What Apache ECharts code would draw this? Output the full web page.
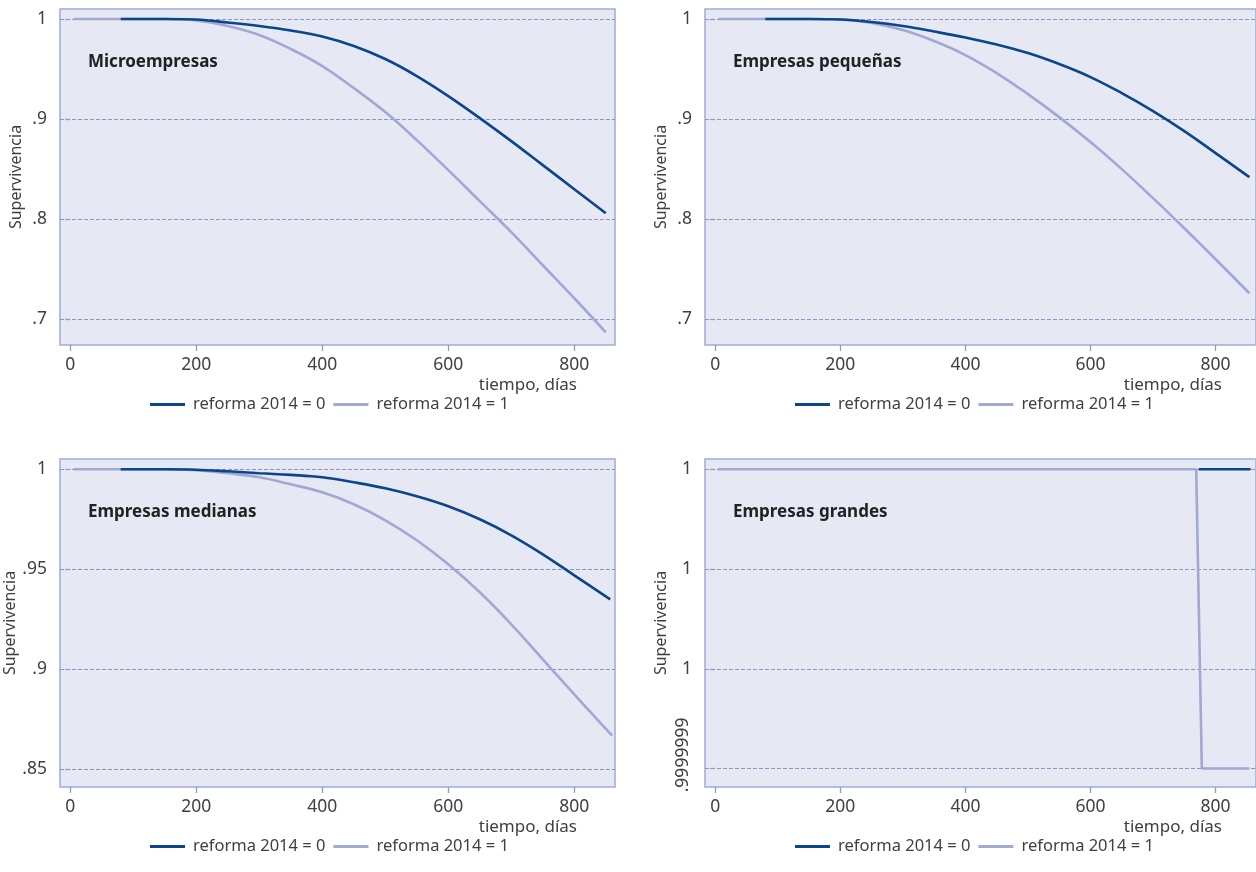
<!DOCTYPE html>
<html>
<head>
<meta charset="utf-8">
<script src="https://cdn.jsdelivr.net/npm/echarts@6/dist/echarts.min.js"></script>
<style>
  html, body { margin: 0; padding: 0; background: #ffffff; }
  #chart { width: 1256px; height: 872px; }
</style>
</head>
<body>
<div id="chart"></div>
<script>
// ---------- data ----------
const seriesNames = ['reforma 2014 = 0', 'reforma 2014 = 1'];
const panelTitles = ['Microempresas', 'Empresas pequeñas', 'Empresas medianas', 'Empresas grandes'];
const xTicks = [0, 200, 400, 600, 800];
const xTitle = 'tiempo, días';
const yTitle = 'Supervivencia';

const yTicksMicro = [0.7, 0.8, 0.9, 1];
const yTicksPequenas = [0.7, 0.8, 0.9, 1];
const yTicksMedianas = [0.85, 0.9, 0.95, 1];
const yTicksGrandes = [0.9999999, 0.9999999333, 0.9999999667, 1];

// Microempresas
const microDias0 = [80,100,150,200,250,300,350,400,450,500,550,600,650,700,750,800,850];
const microSuperv0 = [1,1,1,0.9995,0.9965,0.993,0.9885,0.9825,0.973,0.960,0.943,0.923,0.901,0.878,0.854,0.830,0.806];
const microDias1 = [5,50,100,150,200,250,300,350,400,450,500,550,600,650,700,750,800,850];
const microSuperv1 = [1,1,1,1,0.9985,0.993,0.984,0.970,0.953,0.931,0.907,0.879,0.849,0.818,0.787,0.754,0.721,0.687];

// Empresas pequeñas
const pequenasDias0 = [80,100,150,200,250,300,350,400,450,500,550,600,650,700,750,800,854];
const pequenasSuperv0 = [1,1,1,0.9995,0.997,0.993,0.9875,0.9815,0.9745,0.966,0.955,0.942,0.926,0.908,0.888,0.866,0.842];
const pequenasDias1 = [5,50,100,150,200,250,300,350,400,450,500,550,600,650,700,750,800,854];
const pequenasSuperv1 = [1,1,1,1,0.9995,0.996,0.989,0.978,0.964,0.946,0.925,0.902,0.877,0.850,0.821,0.791,0.760,0.726];

// Empresas medianas
const medianasDias0 = [80,100,150,200,250,300,350,400,450,500,550,600,650,700,750,800,857];
const medianasSuperv0 = [1,1,1,0.9998,0.999,0.998,0.9972,0.996,0.9935,0.9905,0.9865,0.9815,0.975,0.967,0.9575,0.947,0.935];
const medianasDias1 = [5,50,100,150,200,250,300,350,400,450,500,550,600,650,700,750,800,860];
const medianasSuperv1 = [1,1,1,1,0.9995,0.998,0.996,0.9925,0.9885,0.9825,0.9745,0.9645,0.9525,0.9385,0.9225,0.905,0.8875,0.8668];

// Empresas grandes
const grandesDias0 = [773, 856];
const grandesSuperv0 = [1, 1];
const grandesDias1 = [4, 769, 778, 854];
const grandesSuperv1 = [1, 1, 0.9999999, 0.9999999];

// ---------- styling / layout ----------
const FONT = '"Noto Sans", "Open Sans", sans-serif';
const DARK = '#0a4689';
const LIGHT = '#a2a8d4';
const BG = '#e6e8f4';
const BORDER = '#a3aad3';
const TICK = '#8f99ca';
const GRIDLINE = '#8d94c5';
const TEXT = '#404040';

const panels = [
  { title: panelTitles[0], d0: microDias0, s0: microSuperv0, d1: microDias1, s1: microSuperv1,
    yTicks: yTicksMicro, yMin: 0.6743, yMax: 1.0100, smooth: true,
    grid: { left: 60, top: 9, width: 555, height: 336 } },
  { title: panelTitles[1], d0: pequenasDias0, s0: pequenasSuperv0, d1: pequenasDias1, s1: pequenasSuperv1,
    yTicks: yTicksPequenas, yMin: 0.6743, yMax: 1.0100, smooth: true,
    grid: { left: 705, top: 9, width: 555, height: 336 } },
  { title: panelTitles[2], d0: medianasDias0, s0: medianasSuperv0, d1: medianasDias1, s1: medianasSuperv1,
    yTicks: yTicksMedianas, yMin: 0.84115, yMax: 1.00515, smooth: true,
    grid: { left: 60, top: 459, width: 555, height: 328 } },
  { title: panelTitles[3], d0: grandesDias0, s0: grandesSuperv0, d1: grandesDias1, s1: grandesSuperv1,
    yTicks: yTicksGrandes, yMin: 0.9999998938, yMax: 1.0000000034, smooth: false,
    grid: { left: 705, top: 459, width: 555, height: 328 } }
];

function fmt6(v) {
  let s = String(parseFloat(Number(v).toPrecision(6)));
  if (s.indexOf('0.') === 0) s = s.slice(1);
  return s;
}
function fmt7(v) {
  let s = String(parseFloat(Number(v).toPrecision(7)));
  if (s.indexOf('0.') === 0) s = s.slice(1);
  return s;
}
function pairs(d, s) { return d.map((x, i) => [x, s[i]]); }

const grids = [], xAxes = [], yAxes = [], series = [], legends = [], graphics = [];

panels.forEach((p, i) => {
  grids.push(Object.assign({ show: true, backgroundColor: BG, borderColor: BORDER, borderWidth: 1.5 }, p.grid));
  xAxes.push({
    type: 'value', gridIndex: i, min: -16.3, max: 864.6,
    axisLine: { show: false },
    axisTick: { show: true, length: 6, customValues: xTicks, lineStyle: { color: TICK, width: 1.3 } },
    axisLabel: { customValues: xTicks, margin: 11, fontSize: 17.5, color: TEXT, fontFamily: FONT },
    splitLine: { show: false }
  });
  const isGrandes = (i === 3);
  yAxes.push({
    type: 'value', gridIndex: i, min: p.yMin, max: p.yMax, position: 'left',
    name: yTitle, nameLocation: 'middle', nameGap: 36,
    nameTextStyle: { fontSize: 16, color: TEXT, fontFamily: FONT },
    axisLine: { show: false },
    axisTick: { show: true, length: 5, customValues: p.yTicks, lineStyle: { color: TICK, width: 1.3 } },
    axisLabel: { customValues: isGrandes ? p.yTicks.slice(1) : p.yTicks, margin: 13, fontSize: 17.5,
                 color: TEXT, fontFamily: FONT, formatter: fmt6 },
    splitLine: { show: true, lineStyle: { color: GRIDLINE, type: [4, 2], width: 1 } }
  });
  series.push({
    name: seriesNames[1], type: 'line', xAxisIndex: i, yAxisIndex: yAxes.length - 1,
    data: pairs(p.d1, p.s1), showSymbol: false, symbol: 'none', smooth: p.smooth ? 0.4 : false,
    lineStyle: { color: LIGHT, width: 2.6 }, itemStyle: { color: LIGHT }, z: 3
  });
  series.push({
    name: seriesNames[0], type: 'line', xAxisIndex: i, yAxisIndex: yAxes.length - 1,
    data: pairs(p.d0, p.s0), showSymbol: false, symbol: 'none', smooth: p.smooth ? 0.4 : false,
    lineStyle: { color: DARK, width: 2.6 }, itemStyle: { color: DARK }, z: 4
  });
  if (isGrandes) {
    yAxes.push({
      type: 'value', gridIndex: i, min: p.yMin, max: p.yMax, position: 'left', offset: 0,
      axisLine: { show: false }, axisTick: { show: false }, splitLine: { show: false },
      axisLabel: { customValues: [p.yTicks[0]], rotate: 90, margin: 13, fontSize: 17.5, color: TEXT,
                   fontFamily: FONT, formatter: fmt7, padding: [0, 0, 0, 27] }
    });
  }
  const left = p.grid.left, top = p.grid.top, bottom = p.grid.top + p.grid.height;
  legends.push({
    data: seriesNames, left: left + 85, top: bottom + 46, orient: 'horizontal',
    icon: 'rect', itemWidth: 35, itemHeight: 3, itemGap: 8,
    textStyle: { fontSize: 16.5, color: TEXT, fontFamily: FONT, padding: [0, 0, 0, 3] },
    selectedMode: false
  });
  graphics.push({
    type: 'text', x: left + 28, y: top + 53,
    style: { text: p.title, fontSize: 17, fontWeight: 'bold', fontFamily: FONT, fill: '#222222',
             align: 'left', verticalAlign: 'middle' }
  });
  graphics.push({
    type: 'text', x: left + 517, y: bottom + 40,
    style: { text: xTitle, fontSize: 17, fontFamily: FONT, fill: TEXT, align: 'right', verticalAlign: 'middle' }
  });
});

const chart = echarts.init(document.getElementById('chart'), null, { renderer: 'canvas' });
chart.setOption({
  animation: false,
  backgroundColor: '#ffffff',
  grid: grids,
  xAxis: xAxes,
  yAxis: yAxes,
  series: series,
  legend: legends,
  graphic: graphics
});
</script>
</body>
</html>
